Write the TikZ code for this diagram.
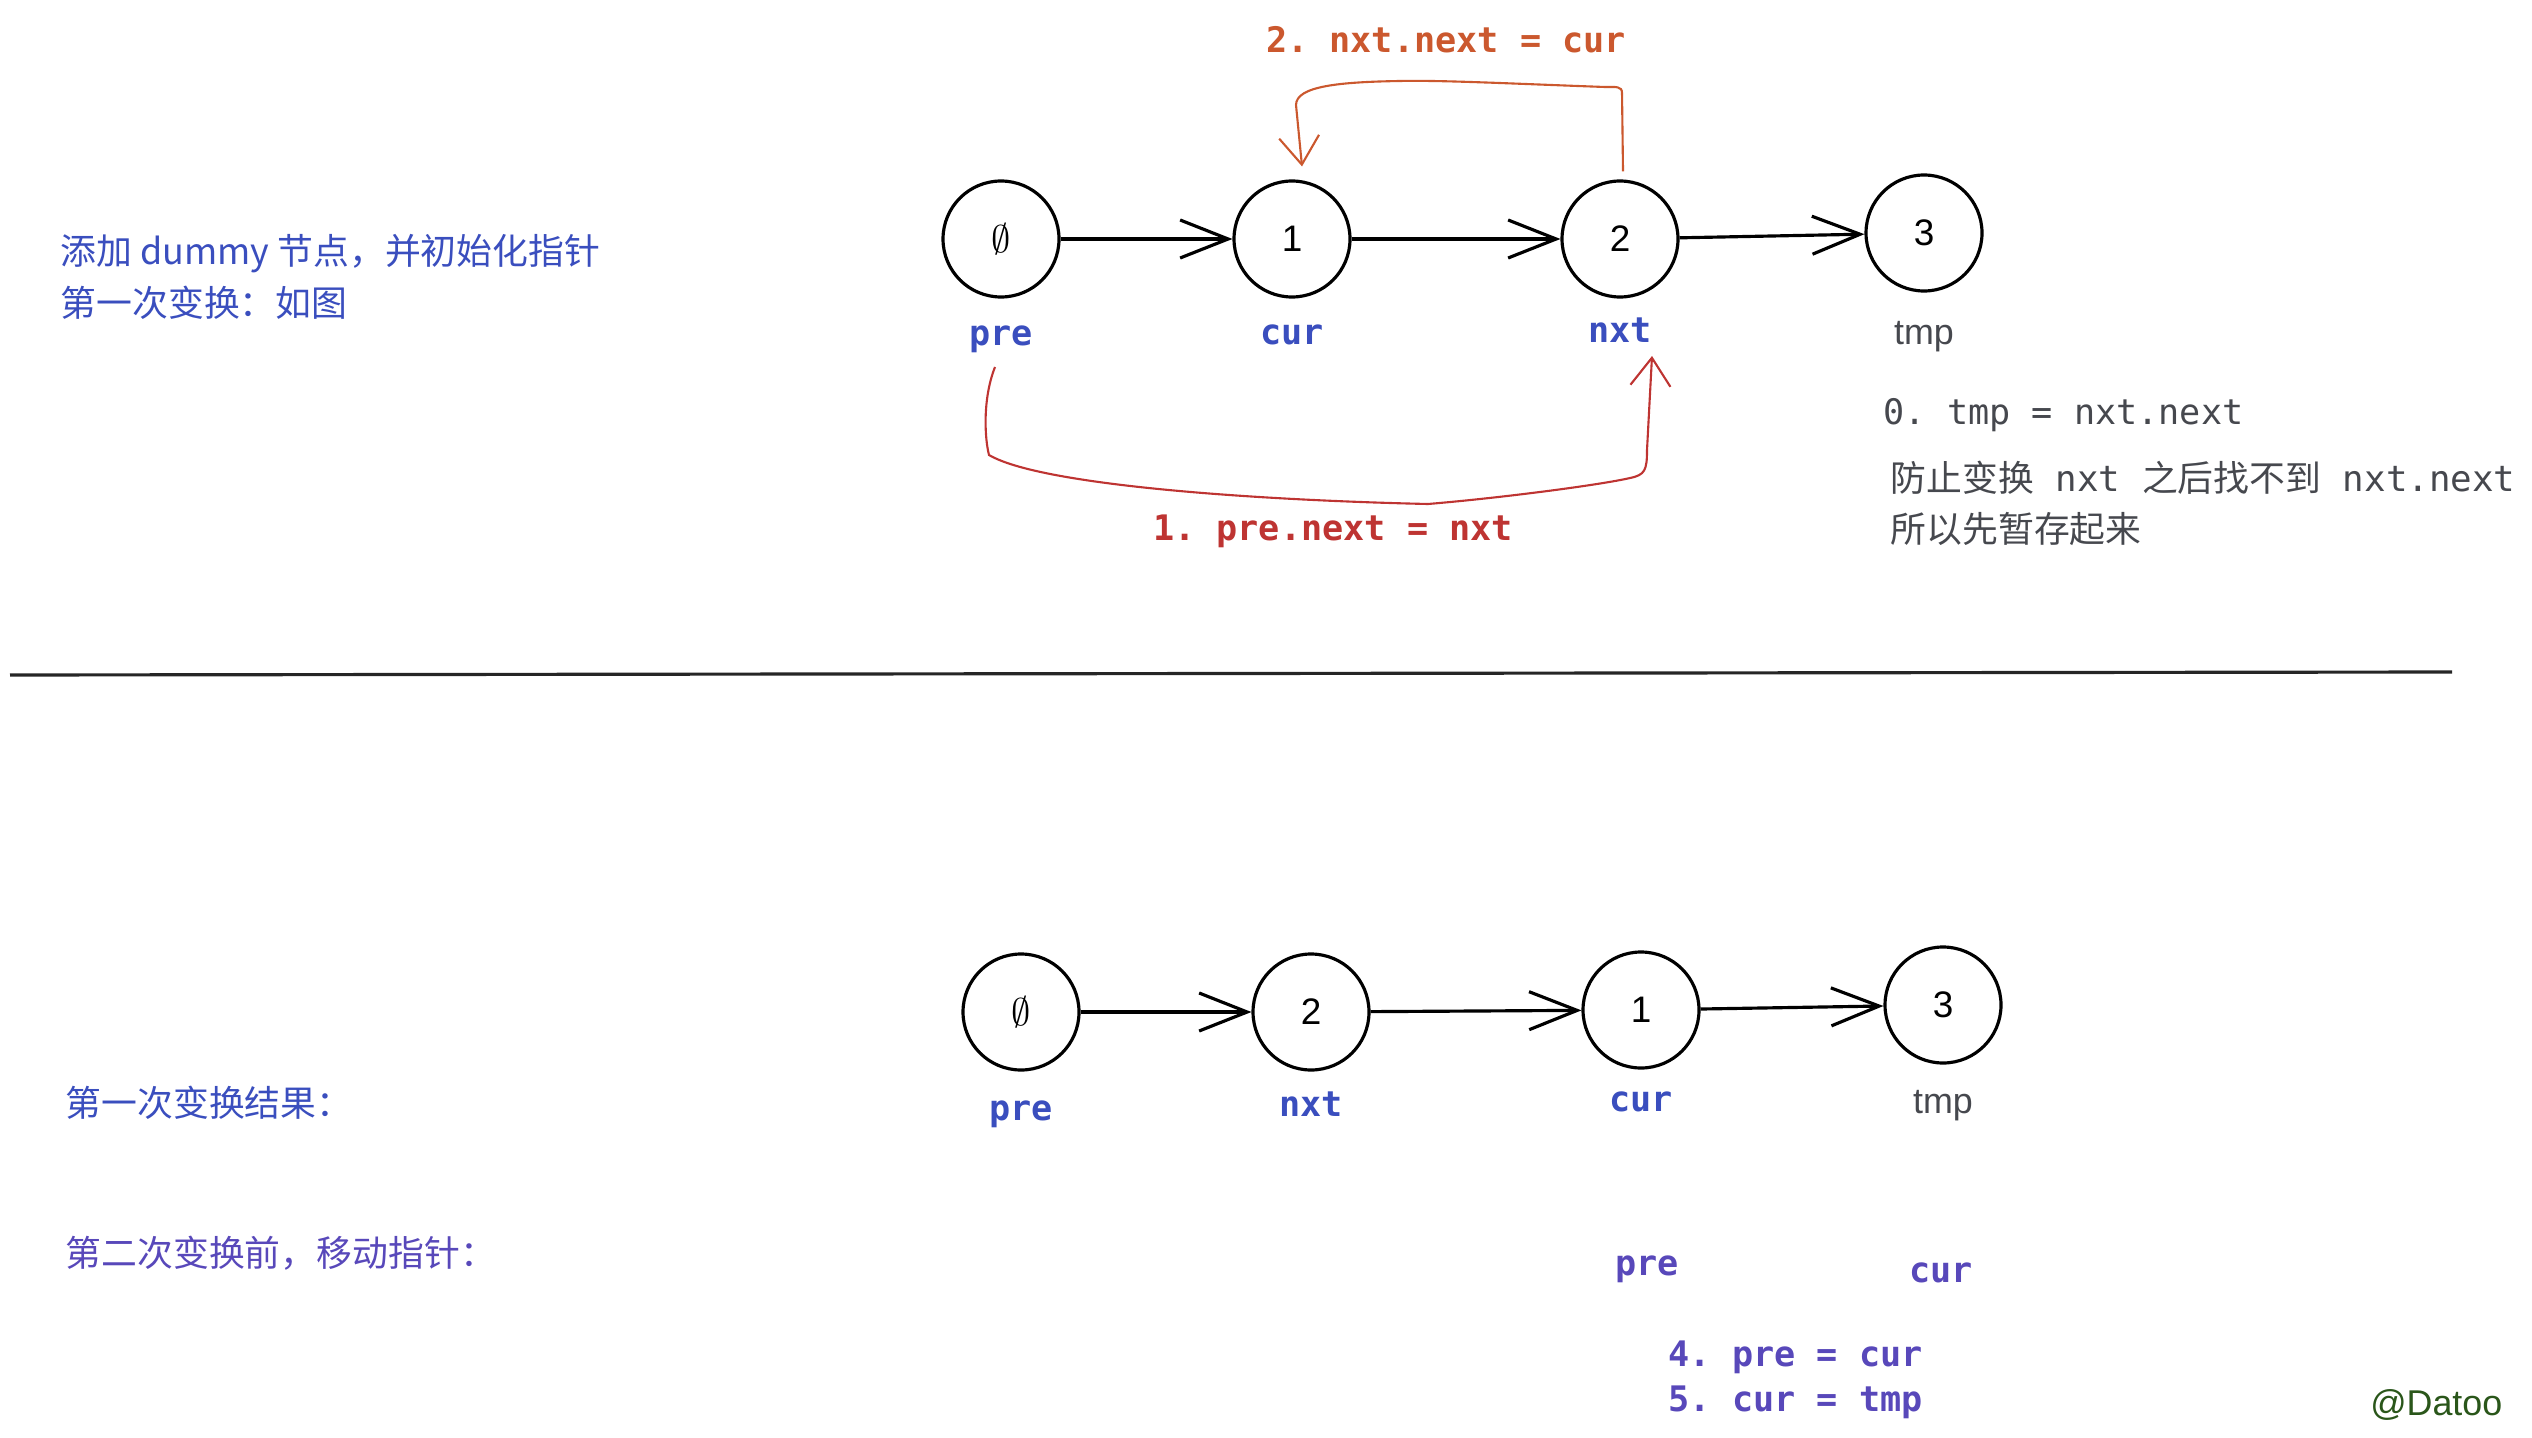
\documentclass[tikz,border=0pt]{standalone}
\usepackage{fontspec}
\setmainfont{Liberation Sans}
\setmonofont{DejaVu Sans Mono}
\newfontfamily\cjk{Noto Sans CJK SC}
\usetikzlibrary{arrows.meta,
                positioning}
\definecolor{ptrblue}{RGB}{58,78,190}
\definecolor{movepurple}{RGB}{88,72,186}
\definecolor{stepred}{RGB}{190,52,50}
\definecolor{steporange}{RGB}{203,88,46}
\definecolor{notegray}{RGB}{70,72,78}
\definecolor{signgreen}{RGB}{42,86,26}
\tikzset{list-node/.style =
   {circle,
    draw,
    line width=0.9pt,
    minimum size=1.16cm,
    inner sep=0pt,
    font=\fontsize{10.5}{12}\selectfont}}
\tikzset{ptr-label/.style =
   {text=ptrblue,
    text height=0.25cm,
    text depth=0.07cm,
    inner sep=0.1cm,
    font=\fontsize{10}{12}\selectfont\ttfamily\bfseries}}
\tikzset{tmp-label/.style =
   {text=notegray,
    text height=0.25cm,
    text depth=0.07cm,
    inner sep=0.1cm,
    font=\fontsize{10.2}{12}\selectfont}}
\tikzset{link/.style =
   {draw,
    line width=0.9pt,
    -{Straight Barb[length=4.8mm, width=3.8mm]}}}
\tikzset{swap-link/.style =
   {draw,
    line width=0.6pt,
    -{Straight Barb[length=2.8mm, width=4mm]}}}
\tikzset{step-text/.style =
   {inner sep=0pt,
    font=\fontsize{10}{12}\selectfont\ttfamily\bfseries}}
\tikzset{note/.style =
   {align=left,
    anchor=west,
    inner sep=0pt,
    font=\fontsize{10.2}{14.5}\selectfont\cjk}}

\begin{document}
\begin{tikzpicture}
    \useasboundingbox (0,0) rectangle (25.32,-14.38);

    % first swap
    \node [note,
           text=ptrblue,
           font=\fontsize{10.2}{14.8}\selectfont\cjk] (intro) at (0.60,-2.77)
          {添加 dummy 节点，并初始化指针\\第一次变换：如图};

    \node [list-node] (n0) at (10.01,-2.39) {$\emptyset$};
    \node [list-node] (n1) at (12.92,-2.39) {1};
    \node [list-node] (n2) at (16.20,-2.39) {2};
    \node [list-node] (n3) at (19.24,-2.33) {3};

    \node [ptr-label, below = 0.11 of n0] (pre-a) {pre};
    \node [ptr-label, below = 0.10 of n1] (cur-a) {cur};
    \node [ptr-label, below = 0.08 of n2] (nxt-a) {nxt};
    \node [tmp-label, below = 0.16 of n3] (tmp-a) {tmp};

    \draw [link] (n0) -- (n1);
    \draw [link] (n1) -- (n2);
    \draw [link] (n2) -- (n3);

    \draw [swap-link, steporange] ([xshift=0.3mm,yshift=0.8mm]n2.north)
        -- (16.22,-0.93)
        .. controls (16.22,-0.86) and (16.16,-0.87) .. (16.05,-0.87)
        .. controls (15.2,-0.84) and (14.4,-0.80) .. (14.0,-0.81)
        .. controls (13.4,-0.82) and (12.96,-0.86) .. (12.96,-1.05)
        -- ([xshift=1mm,yshift=1.3mm]n1.north);
    \node [step-text, text=steporange] (step-two) at (14.46,-0.40)
          {2. nxt.next = cur};

    \draw [swap-link, stepred] ([xshift=-0.6mm,yshift=-0.4mm]pre-a.south)
        .. controls (9.82,-4.0) and (9.85,-4.4) .. (9.89,-4.55)
        .. controls (10.4,-4.85) and (12.5,-5.0) .. (14.28,-5.04)
        .. controls (15.0,-4.98) and (16.0,-4.85) .. (16.3,-4.78)
        .. controls (16.45,-4.75) and (16.47,-4.7) .. (16.47,-4.5)
        -- ([xshift=3.2mm,yshift=0.4mm]nxt-a.south);
    \node [step-text, text=stepred] (step-one) at (13.33,-5.31)
          {1. pre.next = nxt};

    \node [step-text,
           anchor=west,
           text=notegray,
           font=\fontsize{10}{12}\selectfont\ttfamily] (step-zero) at (18.83,-4.15)
          {0. tmp = nxt.next};
    \node [note,
           text=notegray] (why) at (18.90,-5.03)
          {防止变换{\ttfamily\ nxt\ }之后找不到{\ttfamily\ nxt.next}\\所以先暂存起来};

    % divider
    \coordinate (rule-l) at (0.10,-6.75);
    \coordinate (rule-r) at (24.52,-6.72);
    \draw [line width=0.9pt, black!85] (rule-l) -- (rule-r);

    % after the swap
    \node [note, text=ptrblue] (result) at (0.65,-11.03) {第一次变换结果：};
    \node [note, text=movepurple] (move) at (0.65,-12.53) {第二次变换前，移动指针：};

    \node [list-node] (m0) at (10.21,-10.12) {$\emptyset$};
    \node [list-node] (m1) at (13.11,-10.12) {2};
    \node [list-node] (m2) at (16.41,-10.10) {1};
    \node [list-node] (m3) at (19.43,-10.05) {3};

    \node [ptr-label, below = 0.13 of m0] (pre-b) {pre};
    \node [ptr-label, below = 0.09 of m1] (nxt-b) {nxt};
    \node [ptr-label, below = 0.06 of m2] (cur-b) {cur};
    \node [tmp-label, below = 0.13 of m3] (tmp-b) {tmp};

    \draw [link] (m0) -- (m1);
    \draw [link] (m1) -- (m2);
    \draw [link] (m2) -- (m3);

    \node [ptr-label, text=movepurple] (pre-c) at (16.47,-12.66) {pre};
    \node [ptr-label, text=movepurple] (cur-c) at (19.41,-12.73) {cur};

    \node [step-text,
           anchor=west,
           align=left,
           text=movepurple,
           font=\fontsize{10}{12.8}\selectfont\ttfamily\bfseries] (moves) at (16.68,-13.80)
          {4. pre = cur\\5. cur = tmp};

    \node [anchor=east,
           inner sep=0pt,
           text=signgreen,
           font=\fontsize{10.2}{12}\selectfont] (sign) at (25.03,-14.05) {@Datoo};

\end{tikzpicture}
\end{document}
